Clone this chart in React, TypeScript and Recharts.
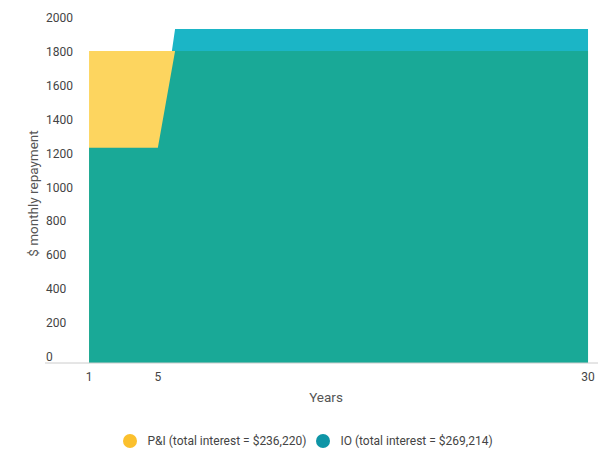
import React from 'react';
import { AreaChart, Area, XAxis, YAxis } from 'recharts';

const years = [1, 2, 3, 4, 5, 6, 7, 8, 9, 10, 11, 12, 13, 14, 15, 16, 17, 18, 19, 20, 21, 22, 23, 24, 25, 26, 27, 28, 29, 30];
const piRepayment = [1840, 1840, 1840, 1840, 1840, 1840, 1840, 1840, 1840, 1840, 1840, 1840, 1840, 1840, 1840, 1840, 1840, 1840, 1840, 1840, 1840, 1840, 1840, 1840, 1840, 1840, 1840, 1840, 1840, 1840];
const ioRepayment = [1270, 1270, 1270, 1270, 1270, 1970, 1970, 1970, 1970, 1970, 1970, 1970, 1970, 1970, 1970, 1970, 1970, 1970, 1970, 1970, 1970, 1970, 1970, 1970, 1970, 1970, 1970, 1970, 1970, 1970];
const xTicks = [1, 5, 30];
const yTicks = [0, 200, 400, 600, 800, 1000, 1200, 1400, 1600, 1800, 2000];
const seriesNames = ['P&I (total interest = $236,220)', 'IO (total interest = $269,214)'];
const legendColors = ['#FBC02D', '#0E95A6'];

const FONT = 'Roboto, "Noto Sans", sans-serif';

// overlap layer = where both repayments sit on top of each other
const chartData = years.map((year, i) => ({
  year,
  pi: piRepayment[i],
  io: ioRepayment[i],
  both: Math.min(piRepayment[i], ioRepayment[i]),
}));

const YTick = (props: any) => {
  const { y, payload } = props;
  return (
    <text x={46} y={y - 2} textAnchor="start" fontSize={12} fill="#444" fontFamily={FONT}>
      {payload.value}
    </text>
  );
};

const XTick = (props: any) => {
  const { x, y, payload } = props;
  return (
    <text x={x} y={y + 18} textAnchor="middle" fontSize={12} fill="#444" fontFamily={FONT}>
      {payload.value}
    </text>
  );
};

const YTitle = (props: any) => {
  const { viewBox } = props;
  const cy = viewBox.y + viewBox.height / 2;
  return (
    <text x={38} y={cy} transform={`rotate(-90, 38, ${cy})`} textAnchor="middle" fontSize={13.5} fill="#555" fontFamily={FONT}>
      $ monthly repayment
    </text>
  );
};

const XTitle = (props: any) => {
  const { viewBox } = props;
  return (
    <text x={viewBox.x + viewBox.width / 2 + 4.5} y={viewBox.y + 39} textAnchor="middle" fontSize={13.5} fill="#555" fontFamily={FONT}>
      Years
    </text>
  );
};

const App: React.FC = () => {
  return (
    <div style={{ position: 'fixed', left: 0, top: 0, width: 610, height: 454, background: '#fff' }}>
      <AreaChart width={610} height={454} data={chartData} margin={{ top: 24, right: 12, bottom: 0, left: 0 }}>
        <XAxis
          dataKey="year"
          type="number"
          domain={[-1.56, 30.58]}
          allowDataOverflow
          ticks={xTicks}
          tickLine={false}
          tickSize={0}
          tickMargin={0}
          axisLine={{ stroke: '#ccc' }}
          height={91}
          tick={<XTick />}
          label={{ content: <XTitle /> }}
        />
        <YAxis
          domain={[0, 2000]}
          ticks={yTicks}
          width={45}
          axisLine={false}
          tickLine={false}
          tick={<YTick />}
          label={{ content: <YTitle /> }}
        />
        <Area type="linear" dataKey="io" name={seriesNames[1]} fill="#1BB5C6" fillOpacity={1} stroke="none" isAnimationActive={false} />
        <Area type="linear" dataKey="pi" name={seriesNames[0]} fill="#FDD55F" fillOpacity={1} stroke="none" isAnimationActive={false} />
        <Area type="linear" dataKey="both" fill="#19A997" fillOpacity={1} stroke="none" isAnimationActive={false} />
      </AreaChart>
      <div
        style={{
          position: 'absolute',
          left: 0,
          top: 433,
          width: 610,
          paddingLeft: 6,
          boxSizing: 'border-box',
          display: 'flex',
          justifyContent: 'center',
          alignItems: 'center',
          fontFamily: FONT,
          fontSize: 12,
          lineHeight: '16px',
          color: '#444',
        }}
      >
        {seriesNames.map((name, i) => (
          <div key={name} style={{ display: 'flex', alignItems: 'center', marginLeft: i === 0 ? 0 : 10 }}>
            <span style={{ width: 14, height: 14, borderRadius: '50%', background: legendColors[i], marginRight: 10 }} />
            <span style={{ whiteSpace: 'nowrap' }}>{name}</span>
          </div>
        ))}
      </div>
    </div>
  );
};

export default App;
